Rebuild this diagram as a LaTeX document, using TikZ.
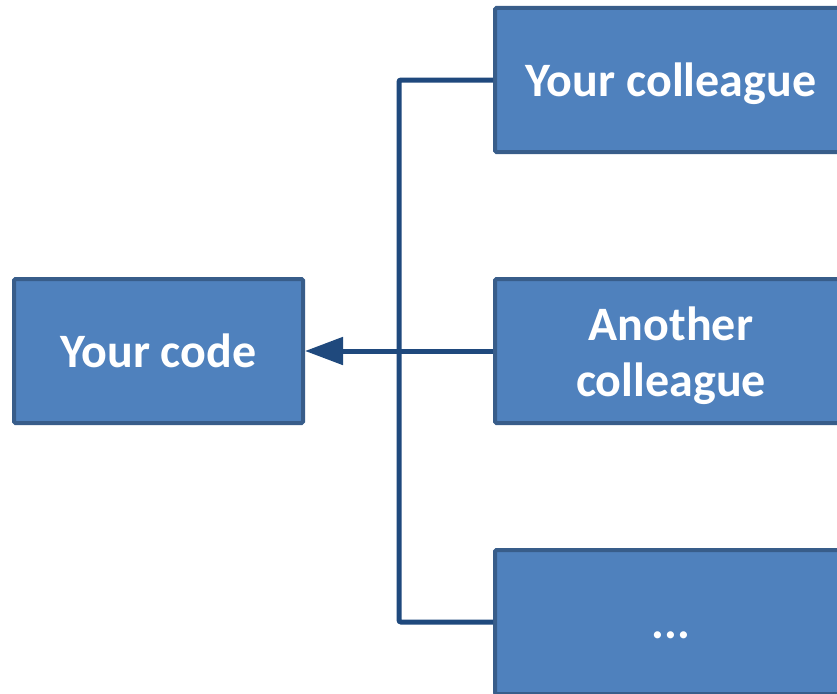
\documentclass[tikz,border=0pt]{standalone}
\usepackage{fontspec}
\setmainfont{Carlito}
\usetikzlibrary{arrows.meta}
\definecolor{boxfill}{HTML}{4F81BD}
\definecolor{boxline}{HTML}{385D8A}
\definecolor{connline}{HTML}{1F497D}
\tikzset{
  block/.style={draw=boxline, line width=4pt, fill=boxfill, text=white,
    font=\fontsize{48}{56}\selectfont\bfseries, align=center,
    inner sep=0pt, minimum height=144pt, rounded corners=1.5pt},
  oneline/.style={text height=40pt, text depth=8pt},
  label text/.style={text=white, font=\fontsize{48}{56}\selectfont\bfseries,
    align=center, inner sep=0pt},
  conn/.style={draw=connline, line width=5pt, rounded corners=2pt},
}
\begin{document}
\begin{tikzpicture}[x=1pt, y=-1pt]
  \useasboundingbox (0,0) rectangle (837,693);
  \clip (0,0) rectangle (837,693);
  \fill[white] (0,0) rectangle (837,693);
  % boxes
  \node[block, oneline, minimum width=289pt] (code) at (158.5,351) {Your code};
  \node[block, oneline, minimum width=352pt] (c1) at (671,80) {Your colleague};
  \node[block, minimum width=352pt] (c2) at (671,351) {};
  \node[label text] (c2text) at ([yshift=-4.5pt]c2.center) {Another\\colleague};
  \node[block, oneline, minimum width=352pt] (c3) at (671,622) {...};
  % bracket joining the colleagues
  \coordinate (spine) at (399,351);
  \draw[conn] (c1.west) -| (spine) |- (c3.west);
  % arrow into the code box
  \draw[conn, -{Triangle[length=38pt, width=27pt]}] (c2.west) -- (code.east);
\end{tikzpicture}
\end{document}
